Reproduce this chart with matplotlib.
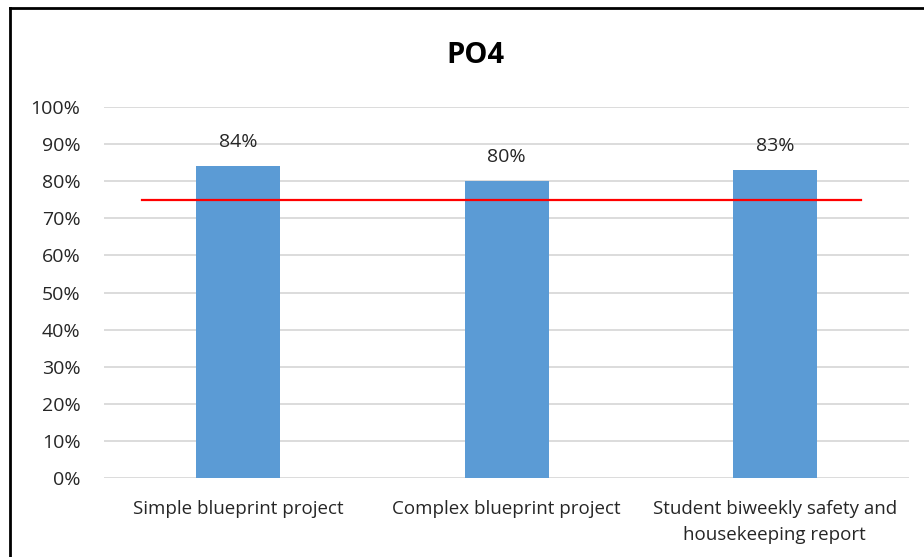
import numpy as np
import matplotlib.pyplot as plt
from matplotlib.lines import Line2D

plt.rcParams['font.family'] = ['Open Sans', 'DejaVu Sans']

######
# Data
######
categories = ['Simple blueprint project', 'Complex blueprint project',
              'Student biweekly safety and\nhousekeeping report']
scores = [0.84, 0.80, 0.83]
target = 0.75
yticks = np.arange(0, 1.01, 0.1)

fig = plt.figure(figsize=(9.24, 5.57), dpi=100)
ax = fig.add_axes([0.1126, 0.1418, 0.8712, 0.6661])

x = np.arange(len(categories))
ax.bar(x, scores, width=0.313, color='#5B9BD5', zorder=3)

# target line
ax.axhline(target, xmin=0.047, xmax=0.940, color='#FF0000', lw=1.6, zorder=4)

for xi, v in zip(x, scores):
    ax.annotate(f'{v:.0%}', (xi, v), xytext=(0, 11), textcoords='offset points',
                ha='center', va='bottom', fontsize=14, color='#262626')

ax.set_xlim(-0.5, len(categories) - 0.5)
ax.set_ylim(0, 1)
ax.set_yticks(yticks)
ax.set_yticklabels([f'{t:.0%}' for t in yticks], fontsize=14, color='#262626')
ax.set_xticks(x)
ax.set_xticklabels(categories, fontsize=13.5, color='#262626', linespacing=1.55)
ax.tick_params(axis='both', length=0)
ax.tick_params(axis='y', pad=17)
ax.tick_params(axis='x', pad=16)
ax.yaxis.grid(True, color='#D9D9D9', lw=1.3, zorder=0)
for s in ax.spines.values():
    s.set_visible(False)

fig.text(0.515, 0.900, 'PO4', ha='center', va='center', fontsize=21,
         fontweight='bold', color='black')

# chart border (top and left only visible)
fig.add_artist(Line2D([10/924, 1], [1 - 8/557] * 2, color='black', lw=2))
fig.add_artist(Line2D([10/924] * 2, [0, 1 - 8/557], color='black', lw=2))

fig.savefig('out.png', dpi=100)
